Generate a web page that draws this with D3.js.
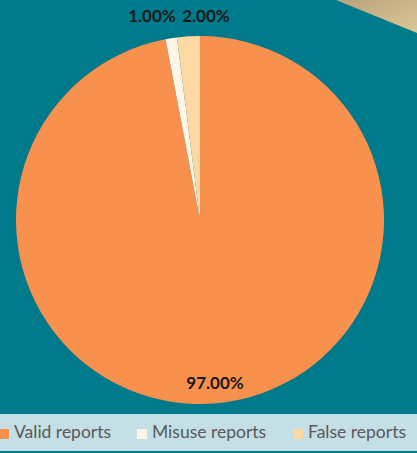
<!DOCTYPE html>
<html>
<head>
<meta charset="utf-8">
<script src="https://cdn.jsdelivr.net/npm/d3@7"></script>
<style>
  body { margin: 0; background: #007b8c; }
  svg { display: block; }
</style>
</head>
<body>
<div id="main"></div>
<script>
const W = 417;
const H = 453;

const categories = ["Valid reports", "Misuse reports", "False reports"];
const shares = [97, 1, 2];
const labels = ["97.00%", "1.00%", "2.00%"];
const colors = ["#f9914e", "#fdf6e6", "#fcd9a2"];

var svg = d3.select("#main").append("svg")
    .attr("width", W)
    .attr("height", H);

var defs = svg.append("defs");
var grad = defs.append("linearGradient")
    .attr("id", "beige")
    .attr("x1", "0").attr("y1", "0").attr("x2", "1").attr("y2", "1");
grad.append("stop").attr("offset", "0").attr("stop-color", "#b9a27c");
grad.append("stop").attr("offset", "1").attr("stop-color", "#dcc796");

var glow = defs.append("radialGradient").attr("id", "glow");
glow.append("stop").attr("offset", "0.9").attr("stop-color", "#005f6e").attr("stop-opacity", 0.6);
glow.append("stop").attr("offset", "1").attr("stop-color", "#007b8c").attr("stop-opacity", 0);

// background
svg.append("rect").attr("width", W).attr("height", H).attr("fill", "#007b8c");
svg.append("path")
    .attr("d", "M336,0 L417,0 L417,33 Z")
    .attr("fill", "url(#beige)");

// pie
const cx = 200, cy = 220, r = 184;
var pie = d3.pie().sort(null).value(d => d)(shares);
var arc = d3.arc().innerRadius(0).outerRadius(r);

var g = svg.append("g").attr("transform", `translate(${cx},${cy})`);
g.append("circle").attr("r", r + 8).attr("fill", "url(#glow)");
g.selectAll("path.slice")
    .data(pie)
    .enter()
    .append("path")
    .attr("class", "slice")
    .attr("d", arc)
    .attr("fill", (d, i) => colors[i]);

// data labels
const font = "Lato, 'Open Sans', sans-serif";
var labelPos = [[15, 169], [-48, -198], [6, -198]];
g.selectAll("text.lbl")
    .data(pie)
    .enter()
    .append("text")
    .attr("class", "lbl")
    .attr("x", (d, i) => labelPos[i][0])
    .attr("y", (d, i) => labelPos[i][1])
    .attr("text-anchor", "middle")
    .attr("font-family", font)
    .attr("font-weight", "bold")
    .attr("font-size", 17)
    .attr("fill", "#1a1a1a")
    .text((d, i) => labels[i]);

// legend band
svg.append("rect")
    .attr("x", 0).attr("y", 414)
    .attr("width", W).attr("height", 37)
    .attr("fill", "#c4dfe5");

var legendX = [-1, 137, 293];
var lg = svg.selectAll("g.leg")
    .data(categories)
    .enter()
    .append("g")
    .attr("class", "leg")
    .attr("transform", (d, i) => `translate(${legendX[i]},433)`);
lg.append("rect")
    .attr("x", 0).attr("y", -4)
    .attr("width", 10).attr("height", 10)
    .attr("fill", (d, i) => colors[i]);
lg.append("text")
    .attr("x", 15)
    .attr("y", 5)
    .attr("font-family", font)
    .attr("font-size", 17.5)
    .attr("fill", "#595959")
    .text(d => d);
</script>
</body>
</html>
